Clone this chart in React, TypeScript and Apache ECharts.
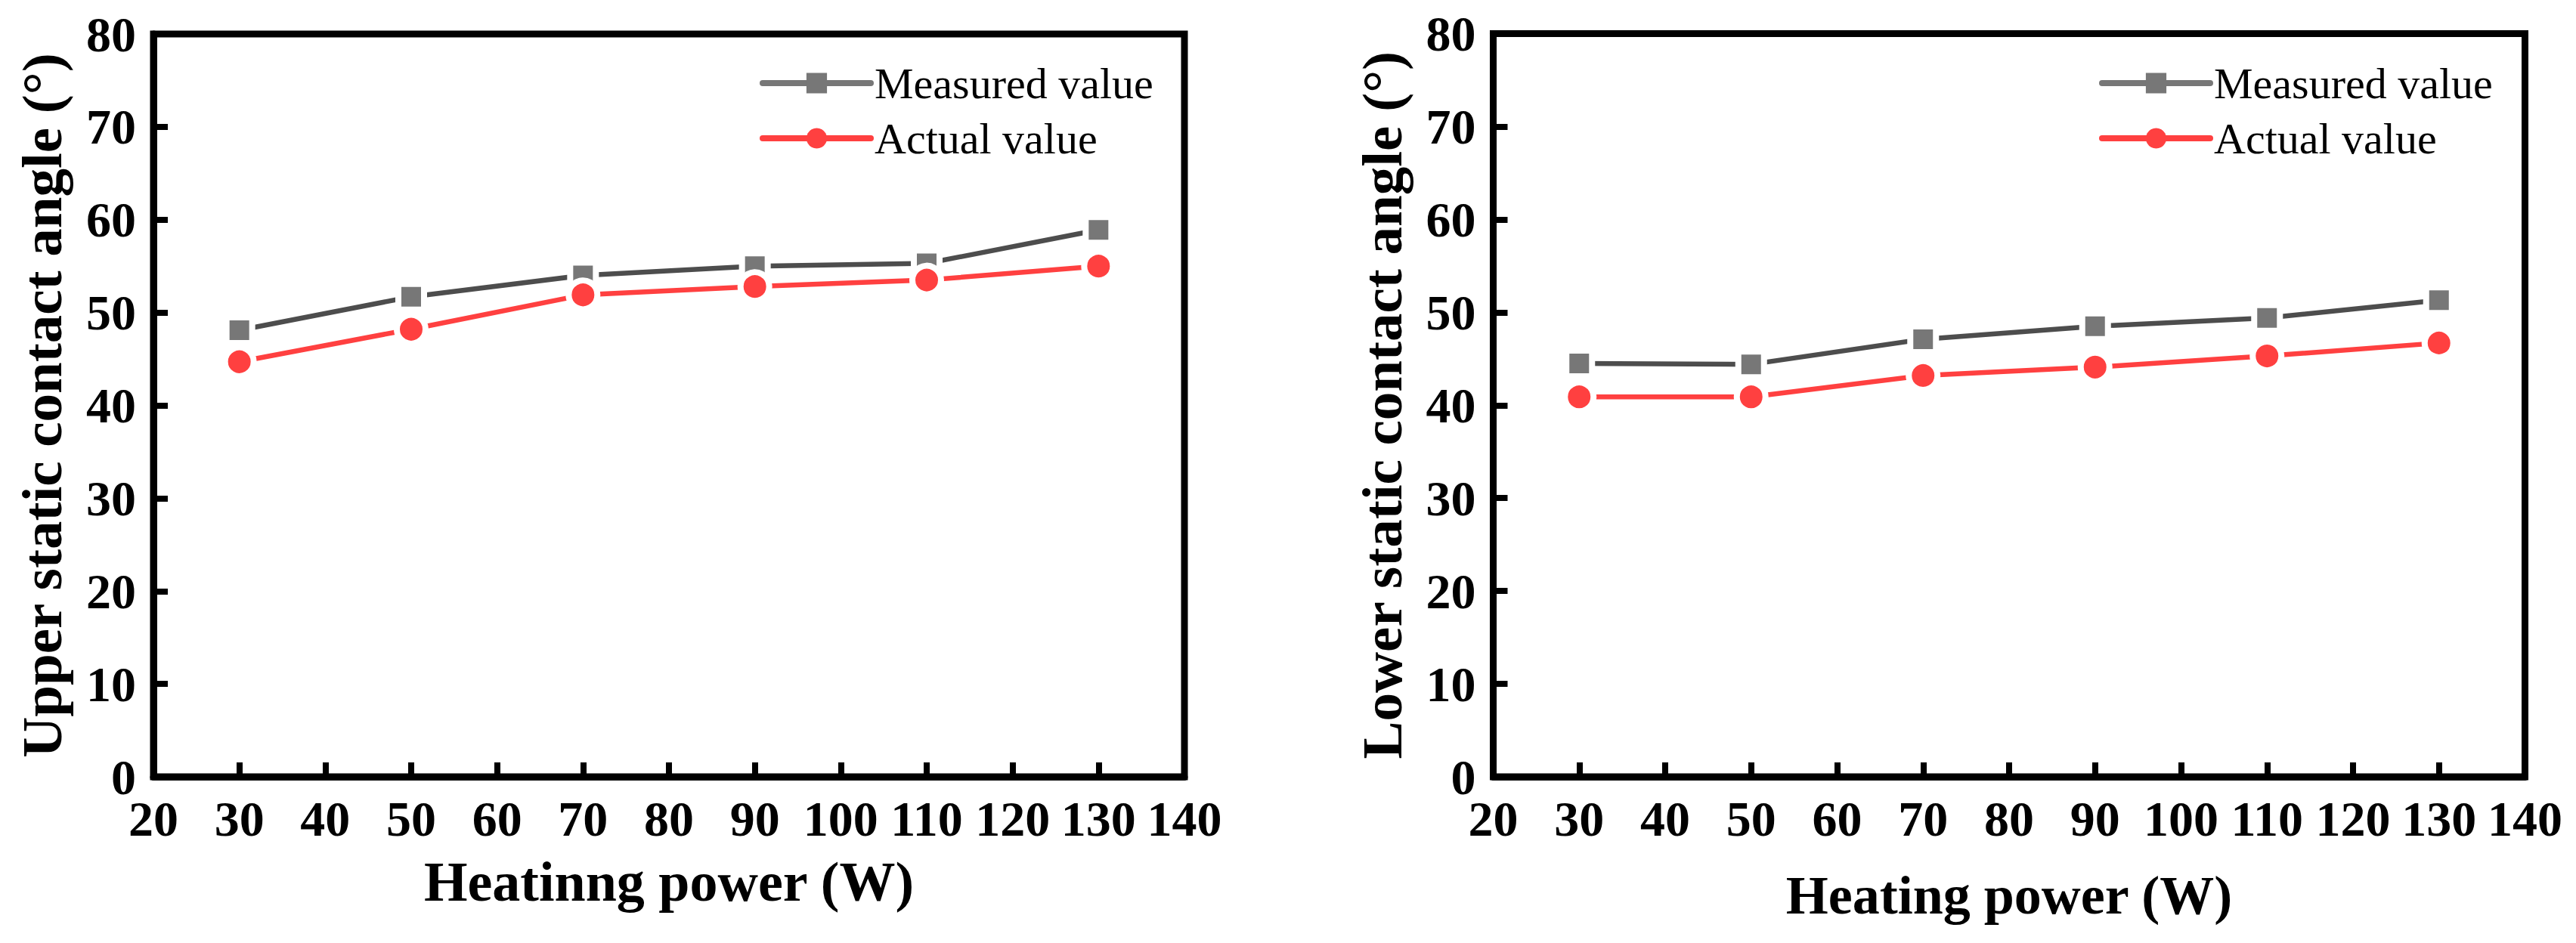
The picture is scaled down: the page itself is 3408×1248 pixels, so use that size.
import React, { useEffect, useRef } from "react";
import * as echarts from "echarts";

const xValues = [30, 50, 70, 90, 110, 130];
const upperMeasured = [48.1, 51.7, 54.0, 55.0, 55.3, 58.9];
const upperActual = [44.7, 48.2, 51.9, 52.8, 53.5, 55.0];
const lowerMeasured = [44.5, 44.4, 47.1, 48.5, 49.4, 51.3];
const lowerActual = [40.9, 40.9, 43.2, 44.1, 45.3, 46.7];

const seriesNames = ["Measured value", "Actual value"];
const leftYTitle = "Upper static contact angle (°)";
const rightYTitle = "Lower static contact angle (°)";
const leftXTitle = "Heatinng power (W)";
const rightXTitle = "Heating power (W)";

const FONT = "'Liberation Serif', 'Times New Roman', serif";
const GRAY_LINE = "#4d4d4d";
const GRAY_MARK = "#777777";
const RED = "#ff4040";

function pairs(xs: number[], ys: number[]) {
  return xs.map((x, i) => [x, ys[i]]);
}

export default function App() {
  const ref = useRef<HTMLDivElement>(null);
  useEffect(() => {
    document.body.style.margin = "0";
    if (!ref.current) return;
    const chart = echarts.init(ref.current, undefined, { renderer: "svg" });

    const xAxisBase = (gridIndex: number, name: string, nameGap: number, nameSize: number) => ({
      type: "value",
      gridIndex,
      min: 20,
      max: 140,
      interval: 10,
      name,
      nameLocation: "middle",
      nameGap,
      nameTextStyle: { fontFamily: FONT, fontWeight: "bold", fontSize: nameSize, color: "#000" },
      axisLine: { show: true, onZero: false, lineStyle: { color: "#000", width: 9 } },
      axisTick: { show: true, inside: true, length: 19, lineStyle: { color: "#000", width: 8 } },
      axisLabel: { fontFamily: FONT, fontWeight: "bold", fontSize: 66, color: "#000", margin: 22 },
      splitLine: { show: false },
    });
    const yAxisBase = (gridIndex: number, name: string) => ({
      type: "value",
      gridIndex,
      min: 0,
      max: 80,
      interval: 10,
      name,
      nameLocation: "middle",
      nameGap: 110,
      nameTextStyle: { fontFamily: FONT, fontWeight: "bold", fontSize: 75, color: "#000" },
      axisLine: { show: true, onZero: false, lineStyle: { color: "#000", width: 9 } },
      axisTick: { show: true, inside: true, length: 19, lineStyle: { color: "#000", width: 8 } },
      axisLabel: { fontFamily: FONT, fontWeight: "bold", fontSize: 66, color: "#000", margin: 23 },
      splitLine: { show: false },
    });

    const mkSeries = (idx: number, measured: number[], actual: number[]) => [
      {
        name: seriesNames[0],
        type: "line",
        xAxisIndex: idx,
        yAxisIndex: idx,
        data: pairs(xValues, measured),
        symbol: "rect",
        symbolSize: 34,
        lineStyle: { color: GRAY_LINE, width: 6.5, cap: "round" },
        itemStyle: { color: GRAY_MARK, borderColor: "#fff", borderWidth: 8 },
      },
      {
        name: seriesNames[1],
        type: "line",
        xAxisIndex: idx,
        yAxisIndex: idx,
        data: pairs(xValues, actual),
        symbol: "circle",
        symbolSize: 38,
        lineStyle: { color: RED, width: 6.5, cap: "round" },
        itemStyle: { color: RED, borderColor: "#fff", borderWidth: 8 },
      },
    ];

    const legendData = [
      {
        name: seriesNames[0],
        itemStyle: { color: GRAY_MARK, borderWidth: 0 },
        lineStyle: { color: GRAY_MARK, width: 8, cap: "round" },
      },
      {
        name: seriesNames[1],
        itemStyle: { color: RED, borderWidth: 0 },
        lineStyle: { color: RED, width: 8, cap: "round" },
      },
    ];
    const mkLegend = (left: number) => ({
      orient: "vertical",
      left,
      top: 81,
      itemWidth: 143,
      itemHeight: 34,
      itemGap: 15,
      padding: 0,
      selectedMode: false,
      textStyle: { fontFamily: FONT, fontSize: 58, color: "#000", lineHeight: 58 },
      data: legendData,
    });

    chart.setOption({
      animation: false,
      backgroundColor: "#fff",
      grid: [
        { left: 203, top: 45, width: 1364, height: 983, show: true, borderColor: "#000", borderWidth: 9, containLabel: false },
        { left: 1975.5, top: 44.5, width: 1365, height: 983.5, show: true, borderColor: "#000", borderWidth: 9, containLabel: false },
      ],
      xAxis: [xAxisBase(0, leftXTitle, 102, 74), xAxisBase(1, rightXTitle, 121, 72)],
      yAxis: [yAxisBase(0, leftYTitle), yAxisBase(1, rightYTitle)],
      legend: [mkLegend(1005), mkLegend(2777)],
      series: [...mkSeries(0, upperMeasured, upperActual), ...mkSeries(1, lowerMeasured, lowerActual)],
    });
    return () => chart.dispose();
  }, []);
  return <div ref={ref} style={{ width: 3408, height: 1248 }} />;
}
